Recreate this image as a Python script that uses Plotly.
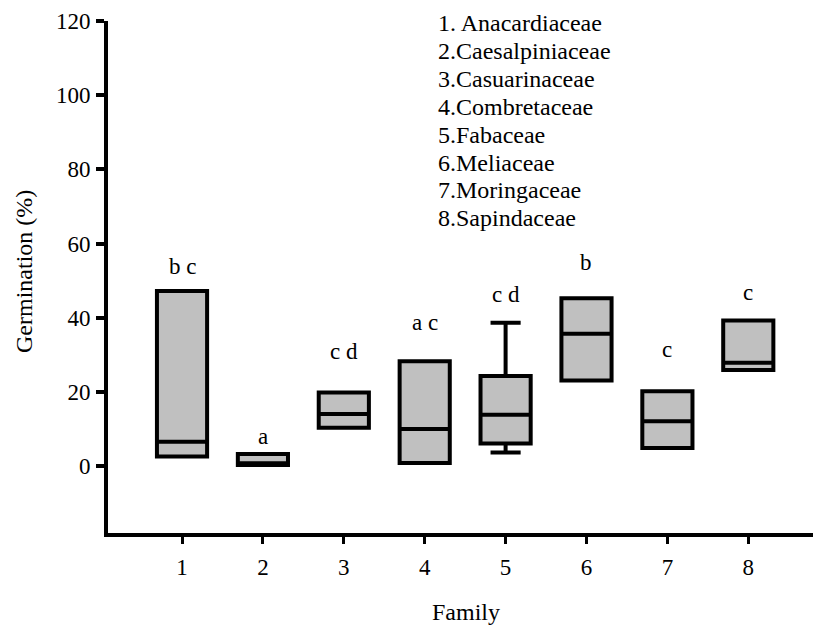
import plotly.graph_objects as go

# ---- data ----
families = [1, 2, 3, 4, 5, 6, 7, 8]
family_names = ["1. Anacardiaceae", "2.Caesalpiniaceae", "3.Casuarinaceae", "4.Combretaceae",
                "5.Fabaceae", "6.Meliaceae", "7.Moringaceae", "8.Sapindaceae"]
q1 = [2.6, 0.3, 10.4, 0.9, 6.1, 23.1, 4.9, 25.9]
median = [6.6, 0.8, 14.1, 10.0, 13.9, 35.7, 12.1, 27.9]
q3 = [47.2, 3.3, 19.9, 28.3, 24.3, 45.3, 20.2, 39.3]
lower_fence = [2.6, 0.3, 10.4, 0.9, 3.7, 23.1, 4.9, 25.9]
upper_fence = [47.2, 3.3, 19.9, 28.3, 38.7, 45.3, 20.2, 39.3]
group_letters = ["b c", "a", "c d", "a c", "c d", "b", "c", "c"]
y_ticks = [0, 20, 40, 60, 80, 100, 120]

FONT = "Liberation Serif"

fig = go.Figure()
fig.add_trace(go.Box(
    x=families, q1=q1, median=median, q3=q3,
    lowerfence=lower_fence, upperfence=upper_fence,
    boxpoints=False, width=0.62, whiskerwidth=0.6,
    fillcolor="#C0C0C0", line=dict(color="black", width=4),
    showlegend=False, hoverinfo="skip",
))

# significance letters above boxes
letter_y = [53.9, 8.0, 30.9, 38.8, 46.4, 55.0, 31.5, 46.9]
for xi, txt, yy in zip(families, group_letters, letter_y):
    fig.add_annotation(x=xi, y=yy, text=txt, showarrow=False,
                       font=dict(family=FONT, size=23, color="black"),
                       xanchor="center", yanchor="middle")

# family key
for k, name in enumerate(family_names):
    fig.add_annotation(xref="paper", yref="paper",
                       x=(436 - 108) / 705, y=(533 - (23 + k * 27.9)) / 512,
                       text=name, showarrow=False, xanchor="left", yanchor="middle",
                       font=dict(family=FONT, size=24, color="black"))

# axis titles
fig.add_annotation(xref="paper", yref="paper", x=(24 - 108) / 705, y=(533 - 272) / 512,
                   text="Germination (%)", textangle=-90, showarrow=False,
                   xanchor="center", yanchor="middle",
                   font=dict(family=FONT, size=24, color="black"))
fig.add_annotation(xref="paper", yref="paper", x=(466 - 108) / 705, y=(533 - 612) / 512,
                   text="Family", showarrow=False, xanchor="center", yanchor="middle",
                   font=dict(family=FONT, size=24, color="black"))

fig.update_layout(
    width=813, height=626,
    margin=dict(l=108, r=0, t=21, b=93),
    paper_bgcolor="white", plot_bgcolor="white",
    font=dict(family=FONT, size=23, color="black"),
    xaxis=dict(range=[0.085, 8.80], tickmode="array", tickvals=families,
               ticktext=[str(f) for f in families],
               showline=True, linecolor="black", linewidth=4,
               ticks="outside", ticklen=7, tickwidth=3, tickcolor="black",
               showgrid=False, zeroline=False, ticklabelstandoff=3),
    yaxis=dict(range=[-18, 120], tickmode="array", tickvals=y_ticks,
               ticktext=[str(v) for v in y_ticks],
               showline=True, linecolor="black", linewidth=4,
               ticks="outside", ticklen=8, tickwidth=4, tickcolor="black",
               showgrid=False, zeroline=False, ticklabelstandoff=1),
)

fig.write_html("out.html", config={"displayModeBar": False},
               post_script="document.body.style.margin='0';document.body.style.overflow='hidden';")
